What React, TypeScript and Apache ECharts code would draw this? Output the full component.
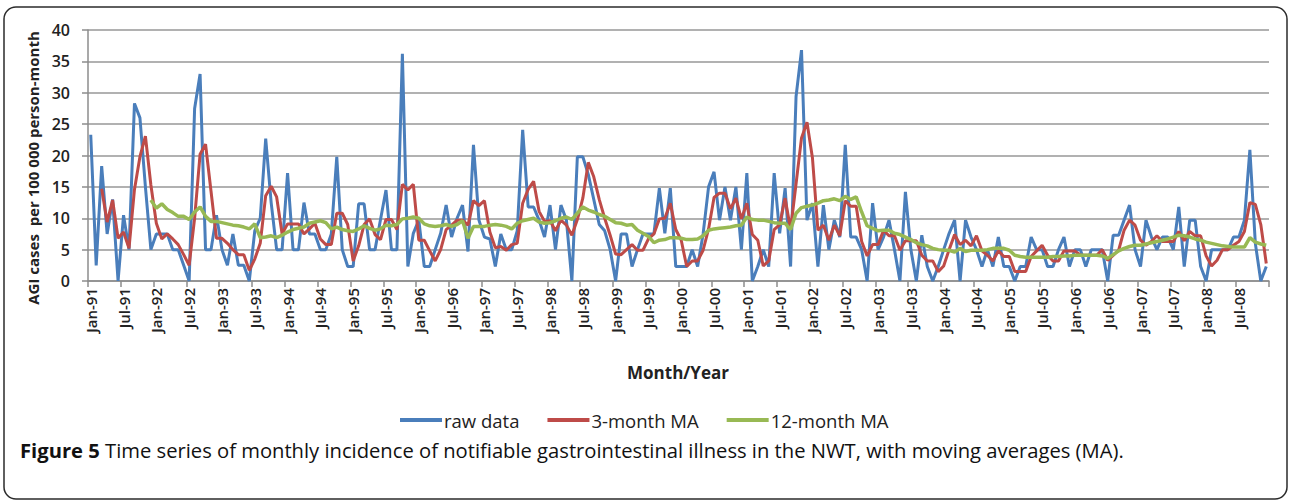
import React, { useEffect, useRef } from "react";
import * as echarts from "echarts";

const MONTHS = ["Jan", "Feb", "Mar", "Apr", "May", "Jun", "Jul", "Aug", "Sep", "Oct", "Nov", "Dec"];
const YEARS = ["91", "92", "93", "94", "95", "96", "97", "98", "99", "00", "01", "02", "03", "04", "05", "06", "07", "08"];
const Y_TICKS = [0, 5, 10, 15, 20, 25, 30, 35, 40];

const RAW = [
  23.3, 2.5, 18.3, 7.5, 13, 0, 10.5, 5, 28.3, 26, 15, 5,
  7.5, 7.5, 7.5, 5, 5, 2.5, 0, 27.5, 33, 5, 5, 10.5,
  5, 2.5, 7.5, 2.5, 2.5, 0, 8, 10, 22.7, 12.5, 5, 5,
  17.2, 5, 5, 12.5, 7.5, 7.5, 5, 5, 7.5, 19.8, 5, 2.3,
  2.3, 12.3, 12.3, 5, 5, 9.8, 14.5, 5, 5, 36.2, 2.3, 7.6,
  9.7, 2.3, 2.3, 5, 7.6, 12.1, 7, 10, 12.1, 4.7, 21.7, 9.7,
  7, 6.7, 2.3, 7.5, 5, 5, 8, 24.1, 11.8, 11.8, 9.7, 7,
  12.1, 5, 12.1, 9.7, 0, 19.8, 19.8, 17, 13, 9, 8, 5,
  0, 7.5, 7.5, 2.3, 5, 7.5, 7.5, 7.5, 14.8, 7.6, 14.8, 2.3,
  2.3, 2.3, 5, 2.3, 7.5, 15, 17.4, 9.7, 15, 9.7, 15, 5,
  17.2, 0, 2.3, 5, 2.3, 17.2, 7.6, 14.8, 2.3, 29.4, 36.8, 9.7,
  12.4, 2.3, 12.1, 5, 9.7, 7, 21.7, 7, 7, 5, 0, 12.4,
  5, 7, 9.7, 5, 0, 14.2, 5, 0, 7.3, 2.3, 0, 2.3,
  5, 7.6, 9.7, 0, 9.7, 7, 5, 2.3, 5, 2.3, 7, 2.3,
  2.3, 0, 2.3, 2.3, 7, 5, 5, 2.3, 2.3, 5, 7, 2.3,
  5, 5, 2.3, 5, 5, 5, 0, 7.3, 7.3, 9.7, 12.1, 5,
  2.3, 9.7, 7, 5, 7, 7, 5, 11.8, 2.3, 9.7, 9.7, 2.3,
  0, 5, 5, 5, 5, 7, 7, 9.7, 20.9, 6, 0, 2.3,
];

const MA3 = [
  null, null, 14.7, 9.4, 12.9, 6.8, 7.8, 5.2, 14.6, 19.8, 23.1, 15.3,
  9.2, 6.7, 7.5, 6.7, 5.8, 4.2, 2.5, 10, 20.2, 21.8, 14.3, 6.8,
  6.8, 6, 5, 4.2, 4.2, 1.7, 3.5, 6, 13.6, 15.1, 13.4, 7.5,
  9.1, 9.1, 9.1, 7.5, 8.3, 9.2, 6.7, 5.8, 5.8, 10.8, 10.8, 9,
  3.2, 5.6, 9, 9.9, 7.4, 6.6, 9.8, 9.8, 8.2, 15.4, 14.5, 15.4,
  6.5, 6.5, 4.8, 3.2, 5, 8.2, 8.9, 9.7, 9.7, 8.9, 12.8, 12,
  12.8, 7.8, 5.3, 5.5, 4.9, 5.8, 6, 12.4, 14.6, 15.9, 11.1, 9.5,
  9.6, 8, 9.7, 8.9, 7.3, 9.8, 13.2, 18.9, 16.6, 13, 10, 7.3,
  4.3, 4.2, 5, 5.8, 4.9, 4.9, 6.7, 7.5, 9.9, 10, 12.4, 8.2,
  6.5, 2.3, 3.2, 3.2, 4.9, 8.3, 13.3, 14, 14, 11.5, 13.2, 9.9,
  12.4, 7.4, 6.5, 2.4, 3.2, 8.2, 9, 13.2, 8.2, 15.5, 22.8, 25.3,
  19.6, 8.1, 8.9, 6.5, 8.9, 7.2, 12.8, 11.9, 11.9, 6.3, 4, 5.8,
  5.8, 8.1, 7.2, 7.2, 4.9, 6.4, 6.4, 6.4, 4.1, 3.2, 3.2, 1.5,
  2.4, 5, 7.4, 5.8, 6.5, 5.6, 7.2, 4.8, 4.1, 3.2, 4.8, 3.9,
  3.9, 1.5, 1.5, 1.5, 3.9, 4.8, 5.7, 4.1, 3.2, 3.2, 4.8, 4.8,
  4.8, 4.1, 4.1, 4.1, 4.1, 5, 3.3, 4.1, 4.9, 8.1, 9.7, 8.9,
  6.5, 5.7, 6.3, 7.2, 6.3, 6.3, 6.3, 7.9, 6.4, 7.9, 7.2, 7.2,
  4, 2.4, 3.3, 5, 5, 5.7, 6.3, 7.9, 12.5, 12.2, 9, 2.8,
];

const MA12 = [
  null, null, null, null, null, null, null, null, null, null, null, 12.9,
  11.6, 12.3, 11.4, 10.9, 10.3, 10.3, 9.8, 11.0, 11.8, 10.3, 9.5, 9.5,
  9.3, 9.1, 8.9, 8.8, 8.6, 8.3, 9.1, 6.9, 7.0, 7.2, 6.9, 7.3,
  7.8, 8.2, 8.4, 8.6, 9.2, 9.4, 9.6, 9.3, 8.3, 8.6, 8.2, 8.0,
  7.9, 8.3, 8.8, 8.4, 8.1, 8.3, 8.9, 8.8, 9.0, 9.9, 10.0, 10.2,
  10.0, 9.1, 8.8, 8.7, 8.8, 9.0, 8.7, 9.0, 9.6, 6.8, 8.7, 8.7,
  8.7, 8.9, 9.0, 8.9, 8.7, 8.3, 9.2, 9.6, 9.8, 10.0, 9.4, 9.2,
  9.3, 9.6, 10.0, 10.2, 9.8, 10.8, 11.8, 11.3, 11.0, 10.6, 10.3, 9.8,
  9.3, 9.2, 8.9, 9.0, 8.1, 7.6, 7.1, 6.1, 6.5, 6.6, 6.9, 6.9,
  6.8, 6.6, 6.6, 6.7, 7.2, 8.1, 8.3, 8.4, 8.5, 8.6, 8.8, 8.9,
  10.2, 9.8, 9.7, 9.7, 9.5, 9.3, 9.2, 9.2, 8.2, 10.8, 11.7, 11.9,
  12.1, 12.4, 12.8, 12.9, 13.1, 12.8, 13.5, 13.0, 13.4, 11.0, 8.8, 8.4,
  8.0, 8.1, 8.1, 7.6, 7.4, 7.0, 6.6, 6.1, 5.8, 5.6, 5.2, 5.0,
  4.9, 4.9, 4.6, 5.2, 4.7, 4.9, 4.9, 4.9, 5.0, 5.2, 5.2, 5.2,
  4.9, 4.1, 3.9, 3.8, 3.8, 3.8, 3.8, 3.8, 3.9, 3.9, 4.0, 4.0,
  4.1, 4.1, 4.1, 4.1, 4.1, 4.0, 3.6, 4.2, 4.8, 5.2, 5.5, 5.7,
  5.7, 5.9, 6.1, 6.3, 6.5, 6.7, 7.0, 7.3, 7.2, 7.0, 6.7, 6.5,
  6.2, 6.0, 5.8, 5.6, 5.5, 5.4, 5.4, 5.4, 6.9, 6.2, 5.9, 5.7,
];

const CATEGORIES = YEARS.flatMap((y) => MONTHS.map((m) => `${m}-${y}`));
const SERIES_NAMES = ["raw data", "3-month MA", "12-month MA"];
const COLORS = ["#4a7ebb", "#be4b48", "#98b954"];

const FONT = "'Open Sans', 'Noto Sans', sans-serif";

export default function App() {
  const ref = useRef<HTMLDivElement>(null);
  useEffect(() => {
    if (!ref.current) return;
    const chart = echarts.init(ref.current, null, { renderer: "svg" });
    const lineSeries = [RAW, MA3, MA12].map((d, i) => ({
      name: SERIES_NAMES[i],
      type: "line",
      data: d,
      showSymbol: false,
      symbol: "none",
      connectNulls: false,
      lineStyle: { color: COLORS[i], width: i === 2 ? 3.5 : 3 },
      itemStyle: { color: COLORS[i] },
      z: 2 + i,
    }));
    chart.setOption({
      animation: false,
      backgroundColor: "#ffffff",
      textStyle: { fontFamily: FONT },
      grid: { left: 88, right: 21, top: 30, bottom: 223, containLabel: false },
      xAxis: {
        type: "category",
        data: CATEGORIES,
        boundaryGap: true,
        axisLine: { lineStyle: { color: "#8c8c8c", width: 1.5 } },
        axisTick: { show: true, interval: 5, length: 6, lineStyle: { color: "#8c8c8c", width: 1.5 } },
        axisLabel: {
          interval: 5,
          rotate: 90,
          margin: 7,
          fontSize: 15,
          fontWeight: 600,
          color: "#222",
          fontFamily: FONT,
        },
        splitLine: { show: false },
      },
      yAxis: {
        type: "value",
        min: Y_TICKS[0],
        max: Y_TICKS[Y_TICKS.length - 1],
        interval: Y_TICKS[1] - Y_TICKS[0],
        axisLine: { show: true, lineStyle: { color: "#8c8c8c", width: 1.5 } },
        axisTick: { show: true, length: 6, lineStyle: { color: "#8c8c8c", width: 1.5 } },
        axisLabel: { fontSize: 16, fontWeight: 600, color: "#222", margin: 18, fontFamily: FONT },
        splitLine: { show: true, lineStyle: { color: "#979797", width: 1.5 } },
      },
      legend: {
        data: SERIES_NAMES,
        left: 400,
        top: 410,
        padding: 0,
        icon: "rect",
        itemWidth: 42,
        itemHeight: 4,
        itemGap: 28,
        textStyle: { fontSize: 18.5, color: "#222", fontFamily: FONT, padding: [0, 0, 0, -3], lineHeight: 20 },
      },
      graphic: [
        {
          type: "rect",
          shape: { x: 4, y: 7, width: 1283, height: 492, r: 12 },
          style: { fill: "none", stroke: "#2b2b2b", lineWidth: 1.5 },
          silent: true,
        },
        {
          type: "text",
          x: 33,
          y: 168,
          rotation: Math.PI / 2,
          style: {
            text: "AGI cases  per 100 000 person-month",
            fontSize: 15,
            fontWeight: "bold",
            fill: "#222",
            fontFamily: FONT,
            textAlign: "center",
            textVerticalAlign: "middle",
          },
        },
        {
          type: "text",
          x: 678,
          y: 372,
          style: {
            text: "Month/Year",
            fontSize: 17,
            fontWeight: "bold",
            fill: "#222",
            fontFamily: FONT,
            textAlign: "center",
            textVerticalAlign: "middle",
          },
        },
        {
          type: "text",
          x: 20,
          y: 450,
          style: {
            text: "{b|Figure 5} Time series of monthly incidence of notifiable gastrointestinal illness in the NWT, with moving averages (MA).",
            fontSize: 20.2,
            lineHeight: 20,
            fill: "#111",
            fontFamily: FONT,
            textVerticalAlign: "middle",
            rich: {
              b: { fontSize: 20.2, lineHeight: 20, fontWeight: "bold", fill: "#111", fontFamily: FONT },
            },
          },
        },
      ],
      series: lineSeries,
    });
    return () => chart.dispose();
  }, []);
  return (
    <div
      ref={ref}
      style={{ position: "fixed", left: 0, top: 0, width: 1290, height: 504, background: "#fff" }}
    />
  );
}
